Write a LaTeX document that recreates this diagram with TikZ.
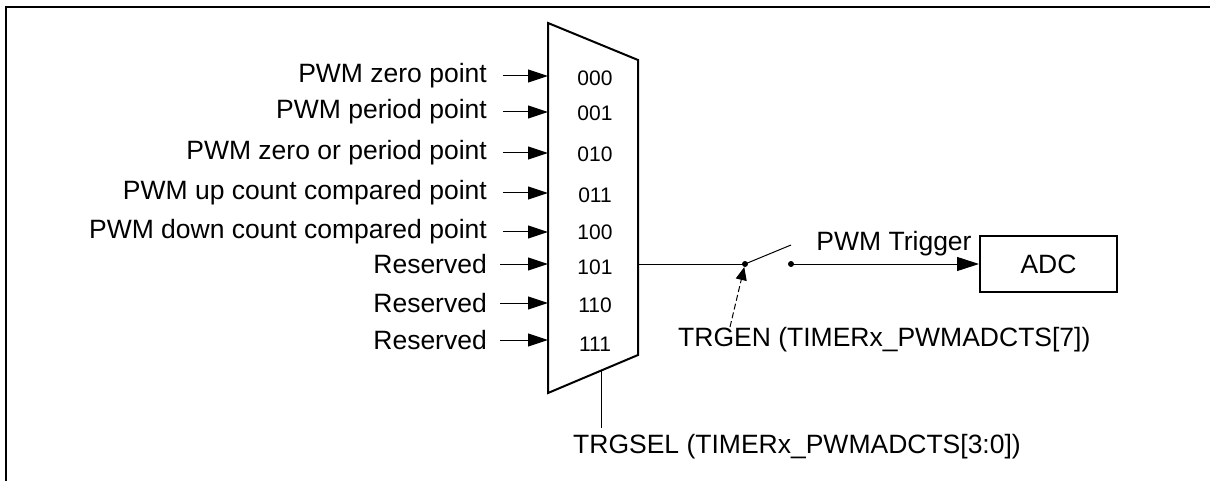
\documentclass[tikz,border=0pt]{standalone}
\usepackage{fontspec}
\setmainfont{Liberation Sans}
\usetikzlibrary{arrows.meta}
\tikzset{
  lbl/.style={font=\fontsize{26.5}{31}\selectfont, inner sep=0pt},
  num/.style={font=\fontsize{21}{25}\selectfont, inner sep=0pt},
  conn/.style={line width=1pt},
  inarrow/.style={conn, -{Triangle[length=20pt,width=13pt]}},
  heavy/.style={line width=2pt},
  dot/.style={circle, fill, inner sep=0pt, minimum size=6pt},
  framestyle/.style={line width=2.5pt},
}
\begin{document}
\begin{tikzpicture}[x=1pt,y=-1pt]
\useasboundingbox (0,0) rectangle (1210,481);
% frame (top and left only)
\draw[framestyle] (6,481) -- (6,7) -- (1210,7);

% multiplexer
\draw[heavy, fill=white] (548,23) coordinate (mtl) -- (638,60) coordinate (mtr)
  -- (638,355) coordinate (mbr) -- (548,393) coordinate (mbl) -- cycle;

% inputs
\foreach \i/\y/\ny/\code/\txt/\sx in {
  1/76/78/000/PWM zero point/503,
  2/112/113/001/PWM period point/503,
  3/153/154/010/PWM zero or period point/503,
  4/193/195/011/PWM up count compared point/503,
  5/232/232/100/PWM down count compared point/503,
  6/264/267/101/Reserved/500,
  7/303/305/110/Reserved/500,
  8/340/344/111/Reserved/500}{
  \node[lbl, anchor=east] (lab\i) at (487,\y) {\txt};
  \coordinate (src\i) at (\sx,\y);
  \coordinate (in\i) at (548,\y);
  \draw[inarrow] (src\i) -- (in\i);
  \node[num] (code\i) at (595,\ny) {\code};
}

% select line
\coordinate (selTop) at (601,370.6);
\coordinate (selBot) at (601,428);
\draw[conn] (selTop) -- (selBot);
\node[lbl, anchor=west] (trgsel) at (573,447) {TRGSEL (TIMERx\_PWMADCTS[3:0])};

% output and switch
\coordinate (mout) at (638,264);
\node[dot] (pivot) at (745,264) {};
\node[dot] (contact) at (791,264) {};
\coordinate (blade) at (791,245);
\draw[conn] (mout) -- (pivot.center);
\draw[conn] (pivot.center) -- (blade);
\node[lbl] (trig) at (894,244) {PWM Trigger};

\node[heavy, draw, minimum width=137pt, minimum height=56pt, inner sep=0pt, lbl] (adc) at (1048.5,264) {ADC};
\draw[conn, -{Triangle[length=22pt,width=14pt]}] (contact.center) -- (adc.west);

% enable control
\coordinate (enStart) at (730,327);
\draw[conn, dash pattern=on 6pt off 3pt, -{Triangle[length=13pt,width=11pt]}] (enStart) -- (pivot);
\node[lbl, anchor=west] (trgen) at (678,340) {TRGEN (TIMERx\_PWMADCTS[7])};
\end{tikzpicture}
\end{document}
